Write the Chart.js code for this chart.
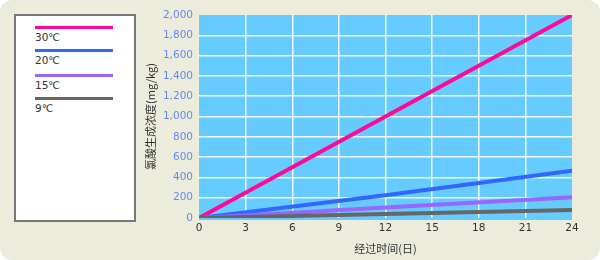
<!DOCTYPE html>
<html>
<head>
<meta charset="utf-8">
<script src="https://cdn.jsdelivr.net/npm/chart.js@4/dist/chart.umd.min.js"></script>
<style>
  html, body { margin:0; padding:0; background:#ffffff; }
  #wrap { position:relative; width:600px; height:260px; background:#ECECDC; border-radius:12px; overflow:hidden; }
  #legend { position:absolute; left:14px; top:14px; width:118px; height:204px; background:#fff; border:2px solid #777; box-sizing:content-box; }
  .item { position:absolute; left:19px; width:78px; }
  .swatch { height:3px; width:78px; }
  .lbl { font-family:"DejaVu Sans", sans-serif; font-size:10.5px; color:#333; margin-top:2px; }
  canvas { position:absolute; left:0; top:0; }
</style>
</head>
<body>
<div id="wrap">
  <div id="legend"></div>
  <canvas id="c" width="600" height="260"></canvas>
</div>
<script>
const days = [0, 12, 24];
const seriesNames = ['30℃', '20℃', '15℃', '9℃'];
const s30 = [0, 1000, 2000];
const s20 = [0, 225, 465];
const s15 = [0, 103, 205];
const s9  = [0, 40, 80];
const colors = ['#FF0A96', '#3366FF', '#9966FF', '#666666'];
const xTicks = [0, 3, 6, 9, 12, 15, 18, 21, 24];
const yTicks = [0, 200, 400, 600, 800, 1000, 1200, 1400, 1600, 1800, 2000];
const xTitle = '经过时间(日)';
const yTitle = '氯酸生成浓度(mg/kg)';

const values = [s30, s20, s15, s9];

// legend
const leg = document.getElementById('legend');
const legTops = [10, 33, 58, 81];
seriesNames.forEach((n, i) => {
  const d = document.createElement('div');
  d.className = 'item';
  d.style.top = legTops[i] + 'px';
  d.innerHTML = '<div class="swatch" style="background:' + colors[i] + '"></div><div class="lbl">' + n + '</div>';
  leg.appendChild(d);
});

const bgPlugin = {
  id: 'plotBg',
  beforeDraw(chart) {
    const a = chart.chartArea, ctx = chart.ctx;
    ctx.save();
    ctx.fillStyle = '#66CCFF';
    ctx.fillRect(a.left, a.top, a.right - a.left, a.bottom - a.top + 2);
    ctx.restore();
  }
};

const font = { family: '"DejaVu Sans", sans-serif', size: 10.5 };
const cjk = { family: '"Noto Sans CJK SC", sans-serif', size: 11 };

new Chart(document.getElementById('c'), {
  type: 'line',
  data: {
    datasets: values.map((v, i) => ({
      label: seriesNames[i],
      data: days.map((d, j) => ({ x: d, y: v[j] })),
      borderColor: colors[i],
      backgroundColor: colors[i],
      borderWidth: 4,
      pointRadius: 0,
      tension: 0,
      fill: false
    })).reverse()
  },
  options: {
    responsive: false,
    animation: false,
    layout: { padding: { left: 140, top: 15, right: 28, bottom: 5 } },
    plugins: { legend: { display: false }, tooltip: { enabled: false } },
    scales: {
      x: {
        type: 'linear', min: 0, max: 24,
        afterBuildTicks: s => { s.ticks = xTicks.map(v => ({ value: v })); },
        afterFit: s => { s.height = 37; },
        ticks: { color: '#333', font: font, padding: 4, maxRotation: 0 },
        grid: { drawTicks: false, lineWidth: 1.5, color: c => (c.tick && (c.tick.value === 0 || c.tick.value === 24)) ? 'rgba(0,0,0,0)' : 'rgba(255,255,255,0.9)' },
        border: { display: false },
        title: { display: true, text: xTitle, color: '#333', font: cjk, padding: { top: 2, bottom: 0 } }
      },
      y: {
        min: 0, max: 2000,
        afterBuildTicks: s => { s.ticks = yTicks.map(v => ({ value: v })); },
        afterFit: s => { s.width = 59; },
        ticks: { color: '#6688EE', font: font, padding: 6, callback: v => v.toLocaleString('en-US') },
        grid: { drawTicks: false, lineWidth: 1.5, color: c => (c.tick && (c.tick.value === 0 || c.tick.value === 2000)) ? 'rgba(0,0,0,0)' : 'rgba(255,255,255,0.9)' },
        border: { display: false },
        title: { display: true, text: yTitle, color: '#333', font: cjk, padding: { top: 4, bottom: 0 } }
      }
    }
  },
  plugins: [bgPlugin]
});
</script>
</body>
</html>
